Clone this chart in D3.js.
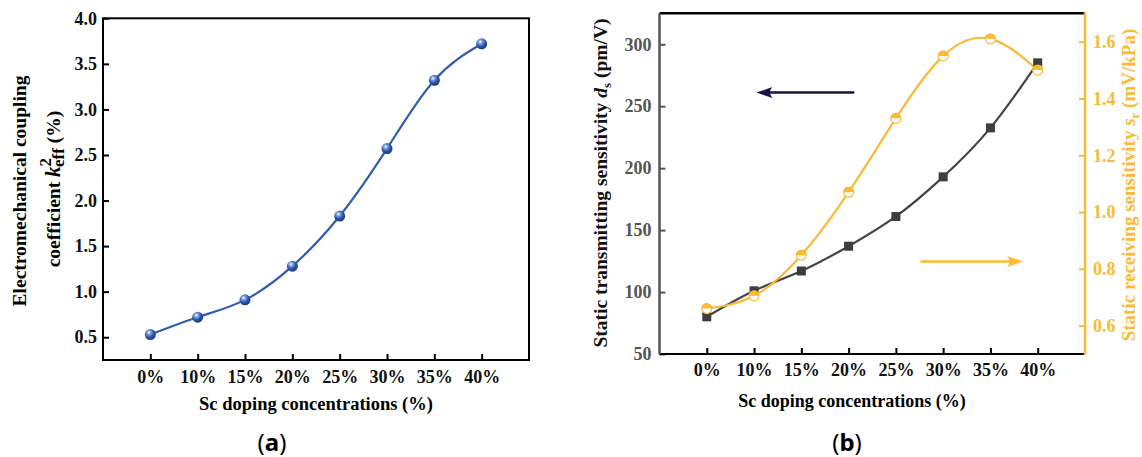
<!DOCTYPE html>
<head>
  <meta charset="utf-8">
  <script src="https://d3js.org/d3.v7.min.js"></script>
  <style>
    body { margin:0; background:#fff; }
    text { font-family: "Liberation Serif", "Times New Roman", serif; font-weight: bold; }
    .domain { display:none; }
  </style>
</head>
<body>
<script>
  // data
  var labels = ["0%", "10%", "15%", "20%", "25%", "30%", "35%", "40%"]
  var coupling = [0.53, 0.72, 0.91, 1.28, 1.83, 2.57, 3.32, 3.72]
  var transmit = [80, 101, 117, 137, 161, 193, 232.5, 285]
  var receive = [0.66, 0.705, 0.848, 1.07, 1.33, 1.55, 1.61, 1.50]
  var ticksA = [0.5, 1.0, 1.5, 2.0, 2.5, 3.0, 3.5, 4.0]
  var ticksL = [50, 100, 150, 200, 250, 300]
  var ticksR = [0.6, 0.8, 1.0, 1.2, 1.4, 1.6]

  var svg = d3.select("body").append("svg")
    .attr("width", 1142)
    .attr("height", 457)

  var defs = svg.append("defs")
  var grad = defs.append("radialGradient").attr("id", "ball")
    .attr("cx", "0.38").attr("cy", "0.32").attr("r", "0.7")
  grad.append("stop").attr("offset", "0").attr("stop-color", "#ffffff")
  grad.append("stop").attr("offset", "0.25").attr("stop-color", "#7f9fe0")
  grad.append("stop").attr("offset", "0.6").attr("stop-color", "#2d56aa")
  grad.append("stop").attr("offset", "1").attr("stop-color", "#1a3577")

  // ---------- panel (a) ----------
  var xa = d3.scaleLinear().domain([-1, 8]).range([103, 529])
  var ya = d3.scaleLinear().domain([0.25, 4.0]).range([360, 18.3])

  var ga = svg.append("g")
  ga.append("g")
    .attr("transform", "translate(0,360)")
    .call(d3.axisBottom(xa).tickValues(d3.range(8)).tickFormat(function(i) { return labels[i] })
      .tickSize(-6).tickPadding(10))
  ga.append("g")
    .attr("transform", "translate(103,0)")
    .call(d3.axisLeft(ya).tickValues(ticksA).tickFormat(d3.format(".1f"))
      .tickSize(-6).tickPadding(6))
  ga.selectAll(".tick line").attr("stroke", "#000").attr("stroke-width", 2)
  ga.selectAll(".tick text").attr("font-size", 18).attr("fill", "#111")
    .style("font-family", "Liberation Serif").style("font-weight", "bold")

  ga.append("rect")
    .attr("x", xa(-1)).attr("y", ya(4.0))
    .attr("width", xa(8) - xa(-1)).attr("height", ya(0.25) - ya(4.0))
    .attr("fill", "none").attr("stroke", "#000").attr("stroke-width", 2)

  var lineA = d3.line()
    .x(function(d, i) { return xa(i) })
    .y(function(d) { return ya(d) })
    .curve(d3.curveNatural)
  ga.append("path").attr("d", lineA(coupling))
    .attr("fill", "none").attr("stroke", "#2f5db5").attr("stroke-width", 2.2)
  ga.selectAll(".ball").data(coupling).enter().append("circle")
    .attr("class", "ball")
    .attr("cx", function(d, i) { return xa(i) })
    .attr("cy", function(d) { return ya(d) })
    .attr("r", 5.5)
    .attr("fill", "url(#ball)")

  ga.append("text")
    .attr("transform", "translate(26," + 191 + ") rotate(-90)")
    .attr("text-anchor", "middle").attr("font-size", 19.5)
    .text("Electromechanical coupling")
  var t2 = ga.append("text")
    .attr("transform", "translate(60," + 189 + ") rotate(-90)")
    .attr("text-anchor", "middle").attr("font-size", 19.5)
  t2.append("tspan").text("coefficient ")
  t2.append("tspan").attr("font-style", "italic").attr("font-size", 21).text("k")
  t2.append("tspan").attr("dy", -9).attr("font-size", 17).text("2")
  t2.append("tspan").attr("dx", -9).attr("dy", 13).attr("font-size", 17).text("eff")
  t2.append("tspan").attr("dy", -4).text(" (%)")

  ga.append("text")
    .attr("x", 316).attr("y", 410)
    .attr("text-anchor", "middle").attr("font-size", 18.5)
    .text("Sc doping concentrations (%)")

  var ca = ga.append("text").attr("x", 272).attr("y", 451)
    .attr("text-anchor", "middle").attr("font-size", 24)
    .style("font-family", "'Noto Sans', 'Open Sans', sans-serif").style("font-weight", "normal")
  ca.append("tspan").text("(")
  ca.append("tspan").style("font-weight", "bold").text("a")
  ca.append("tspan").text(")")

  // ---------- panel (b) ----------
  var xb = d3.scaleLinear().domain([-1, 8]).range([659.5, 1085])
  var yl = d3.scaleLinear().domain([50, 325]).range([354, 13.3])
  var yr = d3.scaleLinear().domain([0.5, 1.7]).range([354, 13.3])
  var gray = "#555555"
  var orange = "#fbb934"

  var gb = svg.append("g")
  var xAxisB = gb.append("g")
    .attr("transform", "translate(0,354)")
    .call(d3.axisBottom(xb).tickValues(d3.range(8)).tickFormat(function(i) { return labels[i] })
      .tickSize(-6).tickPadding(9))
  xAxisB.selectAll(".tick line").attr("stroke", "#000").attr("stroke-width", 2)
  xAxisB.selectAll(".tick text").attr("fill", "#111")

  var yAxisL = gb.append("g")
    .attr("transform", "translate(659.5,0)")
    .call(d3.axisLeft(yl).tickValues(ticksL).tickSize(-6).tickPadding(8))
  yAxisL.selectAll(".tick line").attr("stroke", gray).attr("stroke-width", 2)
  yAxisL.selectAll(".tick text").attr("fill", gray)

  var yAxisR = gb.append("g")
    .attr("transform", "translate(1085,0)")
    .call(d3.axisRight(yr).tickValues(ticksR).tickFormat(d3.format(".1f")).tickSize(-6).tickPadding(8))
  yAxisR.selectAll(".tick line").attr("stroke", orange).attr("stroke-width", 2)
  yAxisR.selectAll(".tick text").attr("fill", orange)

  gb.selectAll(".tick text").attr("font-size", 18)
    .style("font-family", "Liberation Serif").style("font-weight", "bold")

  // frame
  gb.append("line").attr("x1", xb(-1)).attr("x2", xb(8)).attr("y1", yl(325)).attr("y2", yl(325))
    .attr("stroke", "#000").attr("stroke-width", 2.5)
  gb.append("line").attr("x1", xb(-1)).attr("x2", xb(8)).attr("y1", yl(50)).attr("y2", yl(50))
    .attr("stroke", "#000").attr("stroke-width", 2)
  gb.append("line").attr("x1", xb(-1)).attr("x2", xb(-1)).attr("y1", yl(325)).attr("y2", yl(50))
    .attr("stroke", gray).attr("stroke-width", 2.5)
  gb.append("line").attr("x1", xb(8)).attr("x2", xb(8)).attr("y1", yl(325) - 1).attr("y2", yl(50) + 1)
    .attr("stroke", orange).attr("stroke-width", 2.5)

  var lineL = d3.line()
    .x(function(d, i) { return xb(i) })
    .y(function(d) { return yl(d) })
    .curve(d3.curveNatural)
  var lineR = d3.line()
    .x(function(d, i) { return xb(i) })
    .y(function(d) { return yr(d) })
    .curve(d3.curveNatural)

  gb.append("path").attr("d", lineL(transmit))
    .attr("fill", "none").attr("stroke", "#444").attr("stroke-width", 2.2)
  gb.append("path").attr("d", lineR(receive))
    .attr("fill", "none").attr("stroke", orange).attr("stroke-width", 2.2)

  gb.selectAll(".sq").data(transmit).enter().append("rect")
    .attr("class", "sq")
    .attr("x", function(d, i) { return xb(i) - 4.5 })
    .attr("y", function(d) { return yl(d) - 4.5 })
    .attr("width", 9).attr("height", 9)
    .attr("fill", "#3d3d3d")

  var rr = 5
  var half = gb.selectAll(".half").data(receive).enter().append("g")
    .attr("class", "half")
    .attr("transform", function(d, i) { return "translate(" + xb(i) + "," + yr(d) + ")" })
  half.append("circle").attr("r", rr).attr("fill", "#fff").attr("stroke", orange).attr("stroke-width", 1.2)
  half.append("path").attr("d", "M" + (-rr) + ",0A" + rr + "," + rr + " 0 0 1 " + rr + ",0Z").attr("fill", orange)

  // arrows
  function arrow(x1, x2, y, color) {
    var dir = x2 > x1 ? 1 : -1
    gb.append("line").attr("x1", x1).attr("x2", x2 - dir * 10).attr("y1", y).attr("y2", y)
      .attr("stroke", color).attr("stroke-width", 2.5)
    gb.append("path")
      .attr("d", "M" + x2 + "," + y +
        "L" + (x2 - dir * 16) + "," + (y - 5.5) +
        "Q" + (x2 - dir * 11) + "," + y + " " + (x2 - dir * 16) + "," + (y + 5.5) + "Z")
      .attr("fill", color)
  }
  arrow(xb(3.12), xb(1.05), yl(261), "#1c1048")
  arrow(xb(4.52), xb(6.69), yr(0.826), orange)

  var tl = gb.append("text")
    .attr("transform", "translate(607,183) rotate(-90)")
    .attr("text-anchor", "middle").attr("font-size", 19.5).attr("fill", "#111")
  tl.append("tspan").text("Static transmitting sensitivity ")
  tl.append("tspan").attr("font-style", "italic").text("d")
  tl.append("tspan").attr("dy", 4).attr("font-size", 13).text("s")
  tl.append("tspan").attr("dy", -4).text(" (pm/V)")

  var tr = gb.append("text")
    .attr("transform", "translate(1135,185) rotate(-90)")
    .attr("text-anchor", "middle").attr("font-size", 19).attr("fill", orange)
  tr.append("tspan").text("Static receiving sensitivity ")
  tr.append("tspan").attr("font-style", "italic").text("s")
  tr.append("tspan").attr("dy", 4).attr("font-size", 13).text("r")
  tr.append("tspan").attr("dy", -4).text(" (mV/kPa)")

  gb.append("text")
    .attr("x", 852).attr("y", 407)
    .attr("text-anchor", "middle").attr("font-size", 18)
    .text("Sc doping concentrations (%)")

  var cb = gb.append("text").attr("x", 847).attr("y", 451)
    .attr("text-anchor", "middle").attr("font-size", 24)
    .style("font-family", "'Noto Sans', 'Open Sans', sans-serif").style("font-weight", "normal")
  cb.append("tspan").text("(")
  cb.append("tspan").style("font-weight", "bold").text("b")
  cb.append("tspan").text(")")
</script>
</body>
